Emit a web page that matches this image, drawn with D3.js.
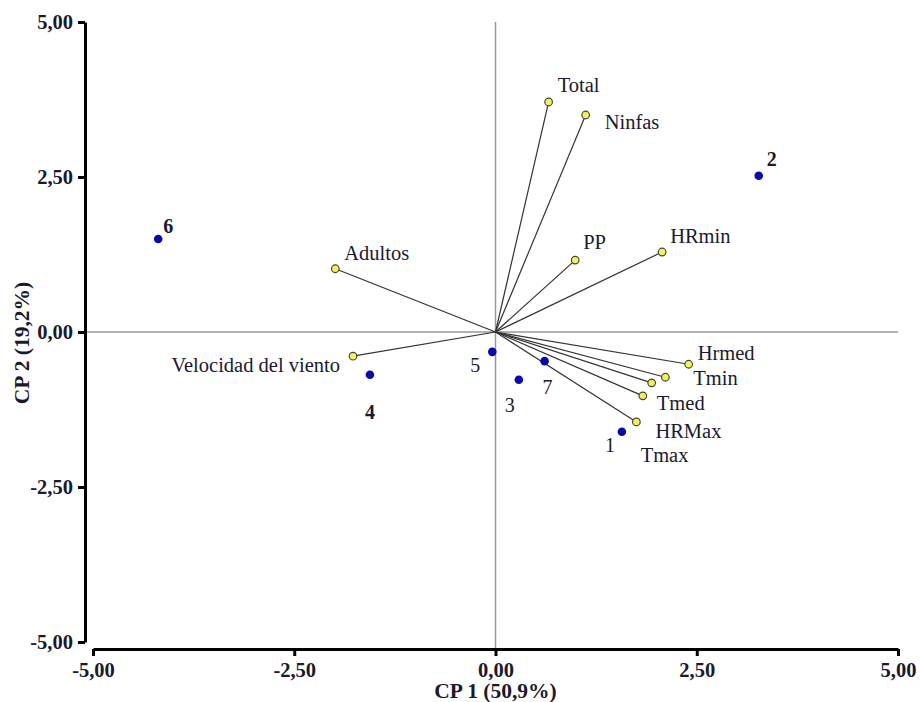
<!DOCTYPE html>
<html>
<head>
<meta charset="utf-8">
<script src="https://cdn.jsdelivr.net/npm/d3@7"></script>
<style>
  body { margin: 0; background: #fff; }
  text { font-family: "Liberation Serif", "Times New Roman", serif; }
</style>
</head>
<body>
<div id="chart"></div>
<script>
// Biplot CP1 vs CP2

let width = 920
let height = 702

// variables (vectors)
let varNames = ['Total', 'Ninfas', 'PP', 'HRmin', 'Adultos', 'Velocidad del viento', 'Hrmed', 'Tmin', 'Tmax', 'Tmed', 'HRMax']
let varCP1 = [0.66, 1.12, 0.99, 2.07, -1.99, -1.77, 2.40, 2.11, 1.94, 1.83, 1.75]
let varCP2 = [3.71, 3.50, 1.16, 1.29, 1.02, -0.39, -0.52, -0.73, -0.82, -1.03, -1.45]

// observations
let obsNames = ['1', '2', '3', '4', '5', '6', '7']
let obsCP1 = [1.57, 3.27, 0.29, -1.56, -0.04, -4.19, 0.61]
let obsCP2 = [-1.61, 2.52, -0.77, -0.69, -0.32, 1.50, -0.47]

let ticks = [-5, -2.5, 0, 2.5, 5]

// label placement (px offsets from the point)
let varLabelPos = {
  'Total': [9, -10, 'start'],
  'Ninfas': [19, 14, 'start'],
  'PP': [8, -11, 'start'],
  'HRmin': [8, -9, 'start'],
  'Adultos': [9, -9, 'start'],
  'Velocidad del viento': [-13, 16, 'end'],
  'Hrmed': [9, -4, 'start'],
  'Tmin': [28, 8, 'start'],
  'Tmax': [-11, 79, 'start'],
  'Tmed': [14, 14, 'start'],
  'HRMax': [19, 16, 'start']
}
let obsLabelPos = {
  '1': [-17, 20, 'normal'],
  '2': [8, -10, 'bold'],
  '3': [-14, 32, 'normal'],
  '4': [-5, 44, 'bold'],
  '5': [-22, 20, 'normal'],
  '6': [5, -6, 'bold'],
  '7': [-2, 33, 'normal']
}

let svg = d3.select('#chart').append('svg')
  .attr('width', width)
  .attr('height', height)

let x = d3.scaleLinear().domain([-5, 5]).range([93, 898])
let y = d3.scaleLinear().domain([-5, 5]).range([642, 22])

let fmt = d => d3.format('.2f')(d).replace('.', ',').replace('\u2212', '-')

// zero reference lines
svg.append('line')
  .attr('x1', 85).attr('x2', x(5))
  .attr('y1', y(0)).attr('y2', y(0))
  .attr('stroke', '#999').attr('stroke-width', 1.5)
svg.append('line')
  .attr('x1', x(0)).attr('x2', x(0))
  .attr('y1', y(5)).attr('y2', 649)
  .attr('stroke', '#999').attr('stroke-width', 1.5)

// axes
let yAxis = svg.append('g')
  .attr('transform', 'translate(85,0)')
  .call(d3.axisLeft(y).tickValues(ticks).tickFormat(fmt).tickSize(7).tickSizeOuter(0))
let xAxis = svg.append('g')
  .attr('transform', 'translate(0,649)')
  .call(d3.axisBottom(x).tickValues(ticks).tickFormat(fmt).tickSize(7).tickSizeOuter(0))

;[xAxis, yAxis].forEach(a => {
  a.select('.domain').attr('stroke', '#000').attr('stroke-width', 3)
  a.selectAll('.tick line').attr('stroke', '#000').attr('stroke-width', 3)
  a.selectAll('.tick text')
    .attr('font-family', '"Liberation Serif", "Times New Roman", serif')
    .attr('font-size', 20.5)
    .attr('font-weight', 'bold')
    .attr('fill', '#1a1a2e')
})
yAxis.selectAll('.tick text').attr('x', -12)
xAxis.selectAll('.tick text').attr('y', 13)

// axis titles
svg.append('text')
  .attr('x', x(0)).attr('y', 698)
  .attr('text-anchor', 'middle')
  .attr('font-size', 21.5).attr('font-weight', 'bold')
  .attr('fill', '#1a1a2e')
  .text('CP 1 (50,9%)')
svg.append('text')
  .attr('transform', 'translate(29,343) rotate(-90)')
  .attr('text-anchor', 'middle')
  .attr('font-size', 21.5).attr('font-weight', 'bold')
  .attr('fill', '#1a1a2e')
  .text('CP 2 (19,2%)')

// vectors
let vars = varNames.map((n, i) => ({ name: n, cp1: varCP1[i], cp2: varCP2[i] }))
let obs = obsNames.map((n, i) => ({ name: n, cp1: obsCP1[i], cp2: obsCP2[i] }))

svg.selectAll('.vec')
  .data(vars)
  .join('line')
  .attr('class', 'vec')
  .attr('x1', x(0)).attr('y1', y(0))
  .attr('x2', d => x(d.cp1)).attr('y2', d => y(d.cp2))
  .attr('stroke', '#333').attr('stroke-width', 1.2)

svg.selectAll('.varPt')
  .data(vars)
  .join('circle')
  .attr('class', 'varPt')
  .attr('cx', d => x(d.cp1)).attr('cy', d => y(d.cp2))
  .attr('r', 3.8)
  .attr('fill', '#f2f25a').attr('stroke', '#444').attr('stroke-width', 1.2)

svg.selectAll('.varLabel')
  .data(vars)
  .join('text')
  .attr('class', 'varLabel')
  .attr('x', d => x(d.cp1) + varLabelPos[d.name][0])
  .attr('y', d => y(d.cp2) + varLabelPos[d.name][1])
  .attr('text-anchor', d => varLabelPos[d.name][2])
  .attr('font-size', 20.5)
  .attr('fill', '#1a1a2e')
  .text(d => d.name)

// observations
svg.selectAll('.obsPt')
  .data(obs)
  .join('circle')
  .attr('class', 'obsPt')
  .attr('cx', d => x(d.cp1)).attr('cy', d => y(d.cp2))
  .attr('r', 4.3)
  .attr('fill', '#0a0aa8')

svg.selectAll('.obsLabel')
  .data(obs)
  .join('text')
  .attr('class', 'obsLabel')
  .attr('x', d => x(d.cp1) + obsLabelPos[d.name][0])
  .attr('y', d => y(d.cp2) + obsLabelPos[d.name][1])
  .attr('font-size', 20)
  .attr('font-weight', d => obsLabelPos[d.name][2])
  .attr('fill', '#1a1a2e')
  .text(d => d.name)
</script>
</body>
</html>
